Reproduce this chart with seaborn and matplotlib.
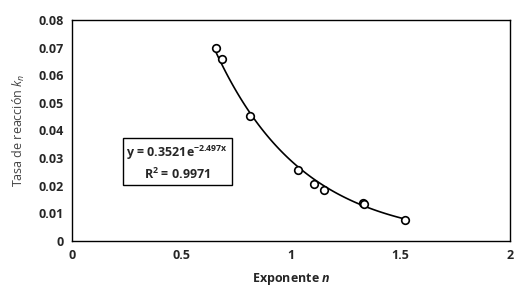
import numpy as np
import seaborn as sns
import pandas as pd
import matplotlib
matplotlib.use('Agg')
import matplotlib.pyplot as plt

# data
exponente = [0.657, 0.685, 0.813, 1.032, 1.105, 1.150, 1.329, 1.332, 1.520]
tasa = [0.0697, 0.0660, 0.0453, 0.0258, 0.0207, 0.0186, 0.0139, 0.0132, 0.0076]
# trendline coefficients (from the equation box)
coef_a = 0.3521
coef_b = -2.497
x_ticks = [0, 0.5, 1, 1.5, 2]
y_ticks = [0, 0.01, 0.02, 0.03, 0.04, 0.05, 0.06, 0.07, 0.08]

df = pd.DataFrame({'n': exponente, 'k': tasa})
xs = np.linspace(min(exponente), max(exponente), 100)
trend = pd.DataFrame({'n': xs, 'k': coef_a * np.exp(coef_b * xs)})

sns.set_style('white')
plt.rcParams['font.family'] = ['Open Sans', 'DejaVu Sans']
plt.rcParams['mathtext.fontset'] = 'custom'
plt.rcParams['mathtext.rm'] = 'Open Sans'
plt.rcParams['mathtext.it'] = 'Open Sans:italic'
plt.rcParams['mathtext.bf'] = 'Open Sans:bold'
plt.rcParams['mathtext.bfit'] = 'Open Sans:italic:bold'

fig = plt.figure(figsize=(5.27, 3.03), dpi=100)
ax = fig.add_axes([0.137, 0.205, 0.831, 0.729])

sns.lineplot(data=trend, x='n', y='k', color='black', linewidth=1.2, ax=ax)
sns.scatterplot(data=df, x='n', y='k', ax=ax, s=30, facecolor='white',
                edgecolor='black', linewidth=1.2, zorder=3)

ax.set_xlim(0, 2)
ax.set_ylim(0, 0.08)
ax.set_xticks(x_ticks)
ax.set_xticklabels(['0', '0.5', '1', '1.5', '2'], fontsize=9, fontweight='bold')
ax.set_yticks(y_ticks)
ax.set_yticklabels(['0', '0.01', '0.02', '0.03', '0.04', '0.05', '0.06', '0.07', '0.08'],
                   fontsize=9, fontweight='bold')
ax.tick_params(length=0, pad=6)
for s in ax.spines.values():
    s.set_color('black')
    s.set_linewidth(1.0)

ax.set_xlabel('Exponente $\\mathbfit{n}$', fontsize=9, fontweight='bold', labelpad=6)
ax.set_ylabel('Tasa de reacción $k_n$', fontsize=9, color='#444444', labelpad=8)

ax.text(0.48, 0.0283, 'y = 0.3521e$^{\\mathbf{-2.497x}}$\nR$^\\mathbf{2}$ = 0.9971', fontsize=9,
        fontweight='bold', ha='center', va='center', linespacing=1.35,
        bbox=dict(boxstyle='square,pad=0.3', facecolor='white', edgecolor='black', linewidth=1.0))

fig.savefig('out.png', dpi=100)
